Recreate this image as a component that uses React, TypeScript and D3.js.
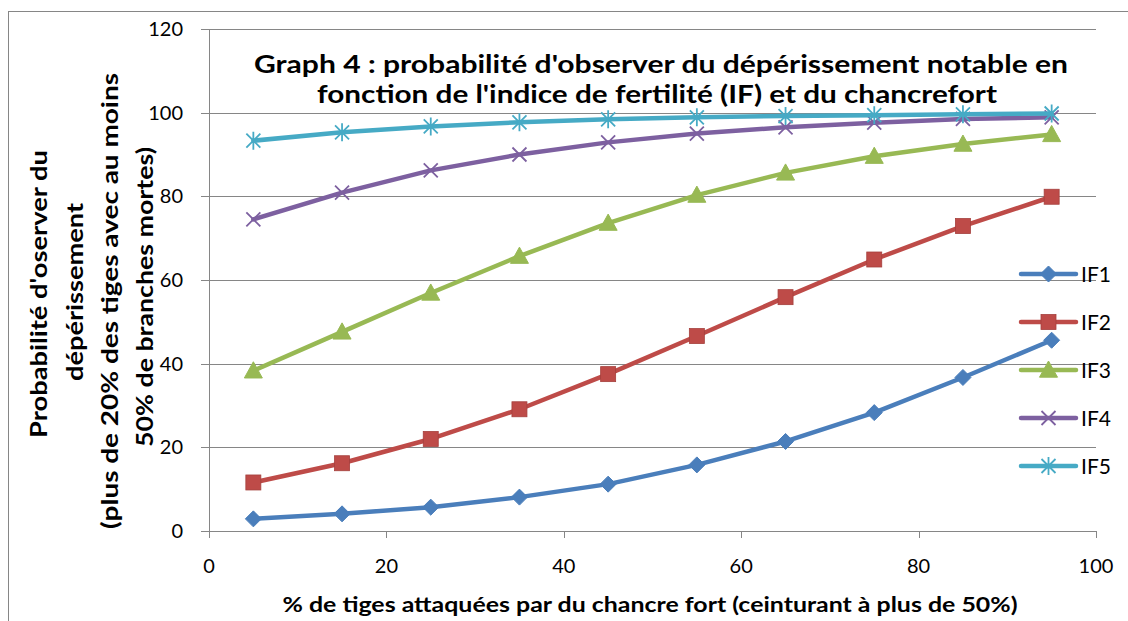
import React from 'react'
import * as d3 from 'd3'

// % of stems attacked (x) and probability per fertility index (y)
const xValues = [5, 15, 25, 35, 45, 55, 65, 75, 85, 95]
const if1 = [2.9, 4.1, 5.7, 8.1, 11.2, 15.8, 21.4, 28.3, 36.7, 45.6]
const if2 = [11.6, 16.2, 22.0, 29.1, 37.5, 46.6, 55.9, 64.9, 72.9, 79.9]
const if3 = [38.3, 47.6, 56.9, 65.7, 73.6, 80.3, 85.6, 89.6, 92.5, 94.8]
const if4 = [74.5, 80.9, 86.2, 90.0, 92.9, 95.0, 96.5, 97.6, 98.5, 98.9]
const if5 = [93.3, 95.3, 96.7, 97.7, 98.4, 98.9, 99.2, 99.4, 99.6, 99.8]
const seriesNames = ['IF1', 'IF2', 'IF3', 'IF4', 'IF5']
const xTicks = [0, 20, 40, 60, 80, 100]
const yTicks = [0, 20, 40, 60, 80, 100, 120]

const titleLines = [
  "Graph 4 : probabilité d'observer du dépérissement notable en",
  "fonction de l'indice de fertilité (IF) et du chancrefort"
]
const yTitleLines = [
  "Probabilité d'oserver du",
  'dépérissement',
  '(plus de 20% des tiges avec au moins',
  '50% de branches mortes)'
]
const xTitle = '% de tiges attaquées par du chancre fort (ceinturant à plus de 50%)'

const colors = ['#4A7EBB', '#BE4B48', '#98B954', '#7D60A0', '#46AAC5']
const grid = '#868686'
const font = 'Lato, "Open Sans", sans-serif'

const Marker = ({kind, x, y, color}) => {
  if (kind === 0) {
    const r = 8
    return <path d={`M${x},${y - r}L${x + r},${y}L${x},${y + r}L${x - r},${y}Z`} fill={color} stroke={color} strokeWidth={1} />
  }
  if (kind === 1) {
    const r = 7.5
    return <rect x={x - r} y={y - r} width={r * 2} height={r * 2} fill={color} stroke="#A5403D" strokeWidth={0.8} />
  }
  if (kind === 2) {
    const r = 9
    return <path d={`M${x},${y - r}L${x + r},${y + r * 0.8}L${x - r},${y + r * 0.8}Z`} fill={color} stroke={color} strokeWidth={1} />
  }
  if (kind === 3) {
    const r = 7
    return <path d={`M${x - r},${y - r}L${x + r},${y + r}M${x - r},${y + r}L${x + r},${y - r}`} stroke={color} strokeWidth={1.8} fill="none" />
  }
  const r = 7
  return (
    <path
      d={`M${x - r},${y - r}L${x + r},${y + r}M${x - r},${y + r}L${x + r},${y - r}M${x},${y - r - 2}L${x},${y + r + 2}`}
      stroke={color}
      strokeWidth={1.8}
      fill="none"
    />
  )
}

export default function App() {
  const width = 1128
  const height = 621
  const plot = {left: 209, right: 1096, top: 29, bottom: 531}

  const x = d3.scaleLinear().domain([0, 100]).range([plot.left, plot.right])
  const y = d3.scaleLinear().domain([0, 120]).range([plot.bottom, plot.top])

  const allSeries = [if1, if2, if3, if4, if5]
  const lineGen = d3
    .line<number>()
    .x((d, i) => x(xValues[i]))
    .y(d => y(d))

  const legendX = 1021
  const legendY0 = 274
  const legendStep = 48

  return (
    <svg width={width} height={height} style={{position: 'absolute', left: 0, top: 0}}>
      <rect x={0} y={0} width={width} height={height} fill="#fff" />
      <rect x={8.5} y={11.5} width={1130} height={620} fill="none" stroke={grid} strokeWidth={1} />

      {/* gridlines */}
      {yTicks.map(t => (
        <line key={'g' + t} x1={plot.left - 8} x2={plot.right} y1={Math.round(y(t)) + 0.5} y2={Math.round(y(t)) + 0.5} stroke={grid} strokeWidth={1} />
      ))}
      <line x1={plot.left + 0.5} x2={plot.left + 0.5} y1={plot.top} y2={plot.bottom + 0.5} stroke={grid} strokeWidth={1} />
      {xTicks.map(t => (
        <line key={'xt' + t} x1={Math.round(x(t)) + 0.5} x2={Math.round(x(t)) + 0.5} y1={plot.bottom} y2={plot.bottom + 7} stroke={grid} strokeWidth={1} />
      ))}

      {/* tick labels */}
      {yTicks.map(t => (
        <text key={'yl' + t} x={183} y={y(t) + 7} textAnchor="end" fontFamily={font} fontSize={20} fill="#000">
          {t}
        </text>
      ))}
      {xTicks.map(t => (
        <text key={'xl' + t} x={x(t)} y={573} textAnchor="middle" fontFamily={font} fontSize={20} fill="#000">
          {t}
        </text>
      ))}

      {/* series */}
      {allSeries.map((s, k) => (
        <g key={seriesNames[k]}>
          <path d={lineGen(s)} fill="none" stroke={colors[k]} strokeWidth={4.5} strokeLinejoin="round" strokeLinecap="round" />
          {s.map((v, i) => (
            <Marker key={i} kind={k} x={x(xValues[i])} y={y(v)} color={colors[k]} />
          ))}
        </g>
      ))}

      {/* legend */}
      {seriesNames.map((n, k) => {
        const ly = legendY0 + k * legendStep
        return (
          <g key={'lg' + n}>
            <line x1={legendX} x2={legendX + 55} y1={ly} y2={ly} stroke={colors[k]} strokeWidth={4.5} strokeLinecap="round" />
            <Marker kind={k} x={legendX + 27.5} y={ly} color={colors[k]} />
            <text x={legendX + 60} y={ly + 8} fontFamily={font} fontSize={21} fill="#000">
              {n}
            </text>
          </g>
        )
      })}

      {/* title */}
      <text x={661} y={73} textAnchor="middle" fontFamily={font} fontWeight="bold" fontSize={25} textLength={814} lengthAdjust="spacingAndGlyphs" fill="#000">
        {titleLines[0]}
      </text>
      <text x={657} y={103} textAnchor="middle" fontFamily={font} fontWeight="bold" fontSize={25} textLength={680} lengthAdjust="spacingAndGlyphs" fill="#000">
        {titleLines[1]}
      </text>

      {/* y axis title */}
      {yTitleLines.map((l, i) => {
        const bx = [47, 83, 118, 153][i]
        const len = [288, 178, 456, 300][i]
        return (
          <text
            key={'yt' + i}
            transform={`translate(${bx},${[294, 292, 301, 297][i]}) rotate(-90)`}
            textAnchor="middle"
            fontFamily={font}
            fontWeight="bold"
            fontSize={22}
            textLength={len}
            lengthAdjust="spacingAndGlyphs"
            fill="#000"
          >
            {l}
          </text>
        )
      })}

      {/* x axis title */}
      <text x={650} y={612} textAnchor="middle" fontFamily={font} fontWeight="bold" fontSize={21} textLength={735} lengthAdjust="spacingAndGlyphs" fill="#000">
        {xTitle}
      </text>
    </svg>
  )
}
